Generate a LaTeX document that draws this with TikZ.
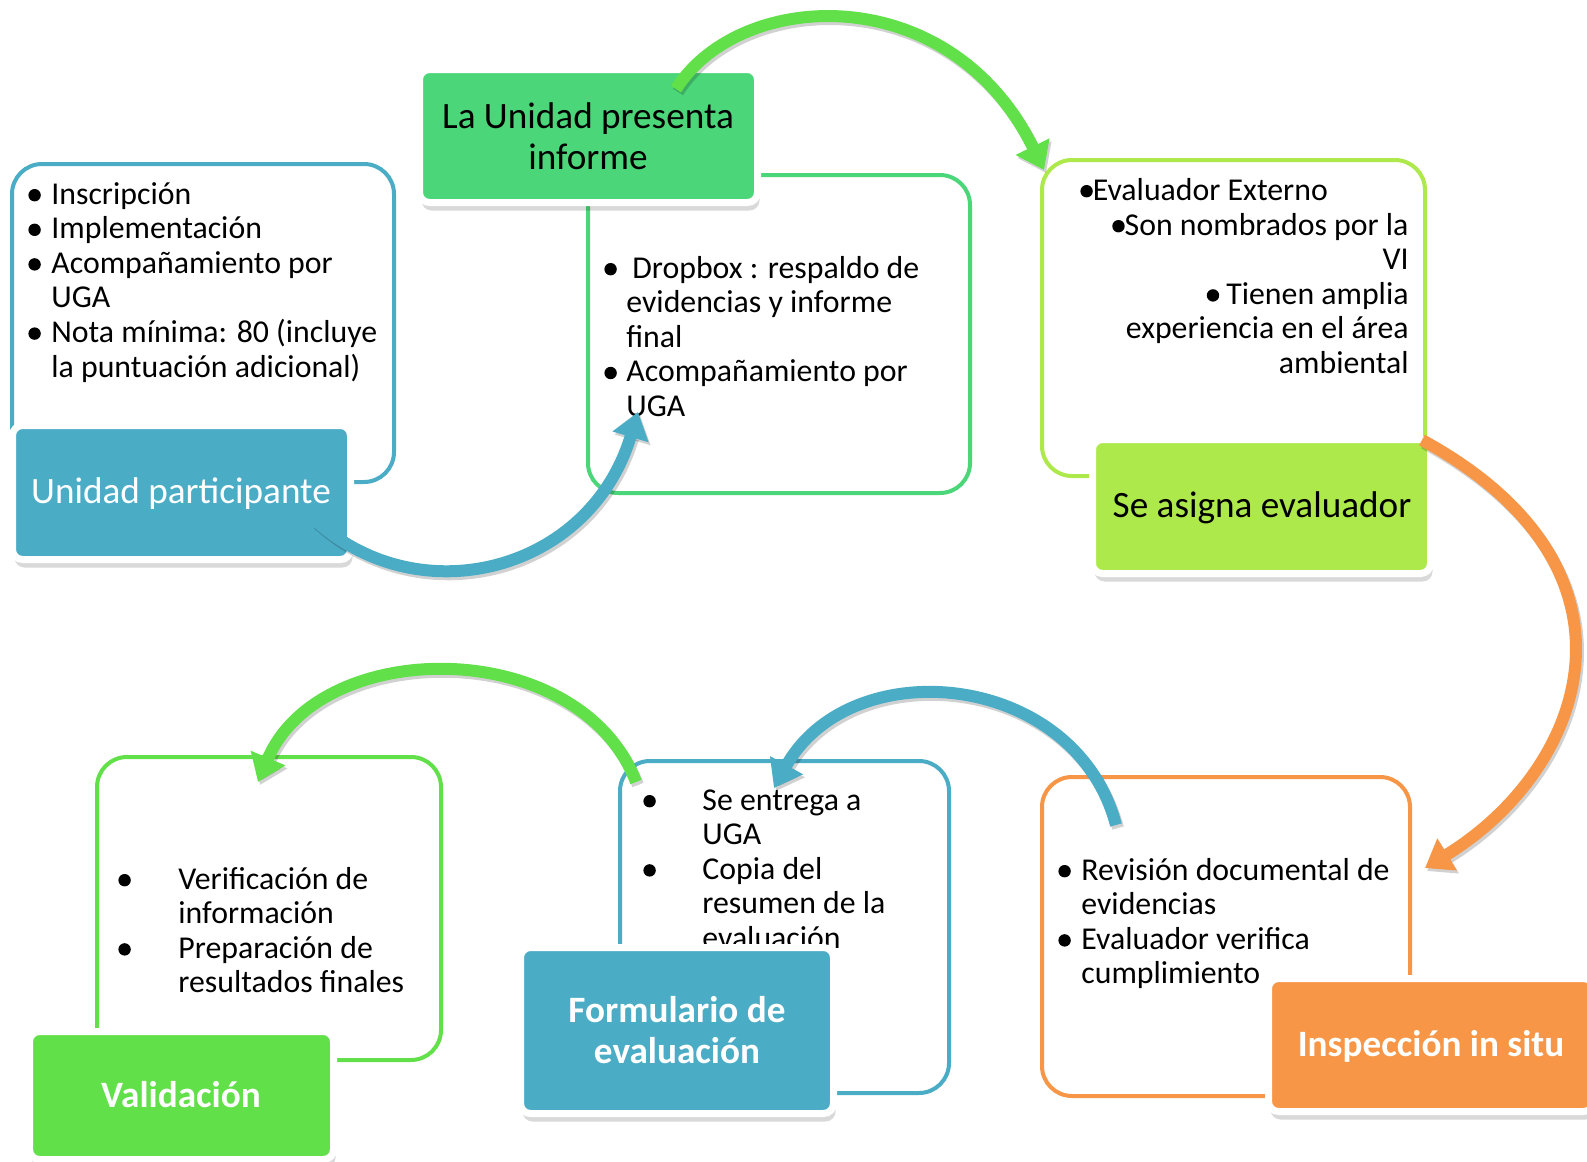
\documentclass[tikz,border=0pt]{standalone}
\usepackage{fontspec}
\setmainfont{Carlito}
\usetikzlibrary{arrows.meta,shadows,fit}
\definecolor{cblue}{HTML}{4BACC6}
\definecolor{cgreen}{HTML}{4BD679}
\definecolor{clime}{HTML}{ADE94A}
\definecolor{cvalid}{HTML}{62E04A}
\definecolor{corange}{HTML}{F79646}
\newcommand{\bodyfont}{\fontsize{15.9}{17.3}\selectfont}
\newcommand{\headfont}{\fontsize{18.6}{20.25}\selectfont}
\newcommand{\bul}{\tikz[baseline=0pt]\fill[black] (3.1pt,4.4pt) circle (3.1pt);}
\begin{document}
\begin{tikzpicture}[x=0.5pt,y=-0.5pt,
  obox/.style={draw=#1, line width=2pt, rounded corners=15pt, fill=white, inner sep=0pt},
  lbox/.style={fill=#1, draw=white, line width=3.5pt, rounded corners=5pt, inner sep=0pt,
    drop shadow={shadow xshift=1pt, shadow yshift=-4pt, opacity=0.15, fill=black}},
  ltext/.style={font=\headfont, align=center, inner sep=0pt},
  btext/.style={anchor=base west, inner sep=0pt, font=\bodyfont},
  flowshadow/.style={draw=black, opacity=0.18, line width=6pt, transform canvas={xshift=1pt,yshift=-1.5pt}, -{Triangle[width=18pt,length=13pt]}},
  flow/.style={draw=#1, line width=6pt, -{Triangle[width=18pt,length=13pt]}}]
\useasboundingbox (0,0) rectangle (1587,1162);
\clip (0,0) rectangle (1587,1162);

% outlined detail boxes
\node[obox=cblue, fit={(12,164)(394,482)}] (b1) {};
\node[obox=cgreen, fit={(588,175)(970,493)}] (b2) {};
\node[obox=clime, fit={(1042,160)(1425,476)}] (b3) {};
\node[obox=cvalid, fit={(97,757)(441,1060)}] (b4) {};
\node[obox=cblue, fit={(620,761)(949,1093)}] (b5) {};
\node[obox=corange, fit={(1042,777)(1410,1096)}] (b6) {};

% texts
\node[btext] (t1) at (28,204) {\begin{tabular}[t]{@{}p{11.5pt}@{}l@{}}
\bul&Inscripción\\ \bul&Implementación\\ \bul&Acompañamiento por\\ &UGA\\
\bul&Nota mínima: 80 (incluye\\ &la puntuación adicional)\end{tabular}};
\node[btext] (t2) at (604,278) {\begin{tabular}[t]{@{}p{11pt}@{}l@{}}
\bul&\hspace{3pt}Dropbox : respaldo de\\ &evidencias y informe\\ &final\\
\bul&Acompañamiento por\\ &UGA\end{tabular}};
\node[btext] (t3a) at (1080,200) {\bul Evaluador Externo};
\node[btext, anchor=base east] (t3b) at (1409,235) {\begin{tabular}[t]{@{}r@{}}
\bul Son nombrados por la\\ VI\\ \bul\ Tienen amplia\\ experiencia en el área\\ ambiental\end{tabular}};
\node[btext] (t4) at (118,889) {\begin{tabular}[t]{@{}p{30pt}@{}l@{}}
\bul&Verificación de\\ &información\\ \bul&Preparación de\\ &resultados finales\end{tabular}};
\node[btext] (t5) at (643,810) {\begin{tabular}[t]{@{}p{29.5pt}@{}l@{}}
\bul&Se entrega a\\ &UGA\\ \bul&Copia del\\ &resumen de la\\ &evaluación\end{tabular}};
\node[btext] (t6) at (1058,880) {\begin{tabular}[t]{@{}p{11.5pt}@{}l@{}}
\bul&Revisión documental de\\ &evidencias\\ \bul&Evaluador verifica\\ &cumplimiento\end{tabular}};

% label boxes
\node[lbox=cblue, fit={(12.5,425.5)(350.5,559.5)}] (l1) {};
\node[lbox=cgreen, fit={(419.5,69.5)(757.5,202.5)}] (l2) {};
\node[lbox=clime, fit={(1092.5,439.5)(1430.5,573.5)}] (l3) {};
\node[lbox=cvalid, fit={(29.5,1031.5)(333.5,1159.5)}] (l4) {};
\node[lbox=cblue, fit={(520.5,947.5)(833.5,1113.5)}] (l5) {};
\node[lbox=corange, fit={(1268.5,978.5)(1593.5,1111.5)}] (l6) {};

\node[ltext, text=white] (lt1) at (181,494) {Unidad participante};
\node[ltext] (lt2) at (588,136) {La Unidad presenta\\informe};
\node[ltext] (lt3) at (1262,508) {Se asigna evaluador};
\node[ltext, text=white, font=\headfont\bfseries] (lt4) at (181,1095) {Validación};
\node[ltext, text=white, font=\headfont\bfseries] (lt5) at (677,1030) {Formulario de\\evaluación};
\node[ltext, text=white, font=\headfont\bfseries] (lt6) at (1431,1046) {Inspección in situ};

% arrow end points
\coordinate (a1s) at (316,521);  \coordinate (a1e) at (638,412);
\coordinate (a2s) at (676,89);   \coordinate (a2e) at (1044,170);
\coordinate (a3s) at (1422,440); \coordinate (a3e) at (1425,868);
\coordinate (a4s) at (1116,825); \coordinate (a4e) at (774,788);
\coordinate (a5s) at (636,782);  \coordinate (a5e) at (258,782);

\draw[flowshadow] (a1s) .. controls (420,615) and (590,572) .. (a1e);
\draw[flow=cblue] (a1s) .. controls (420,615) and (590,572) .. (a1e);
\draw[flowshadow] (a2s) .. controls (740,-12) and (950,-22) .. (a2e);
\draw[flow=cvalid] (a2s) .. controls (740,-12) and (950,-22) .. (a2e);
\draw[flowshadow] (a3s) .. controls (1660,570) and (1585,770) .. (a3e);
\draw[flow=corange] (a3s) .. controls (1660,570) and (1585,770) .. (a3e);
\draw[flowshadow] (a4s) .. controls (1075,670) and (850,650) .. (a4e);
\draw[flow=cblue] (a4s) .. controls (1075,670) and (850,650) .. (a4e);
\draw[flowshadow] (a5s) .. controls (580,635) and (320,635) .. (a5e);
\draw[flow=cvalid] (a5s) .. controls (580,635) and (320,635) .. (a5e);
\end{tikzpicture}
\end{document}
